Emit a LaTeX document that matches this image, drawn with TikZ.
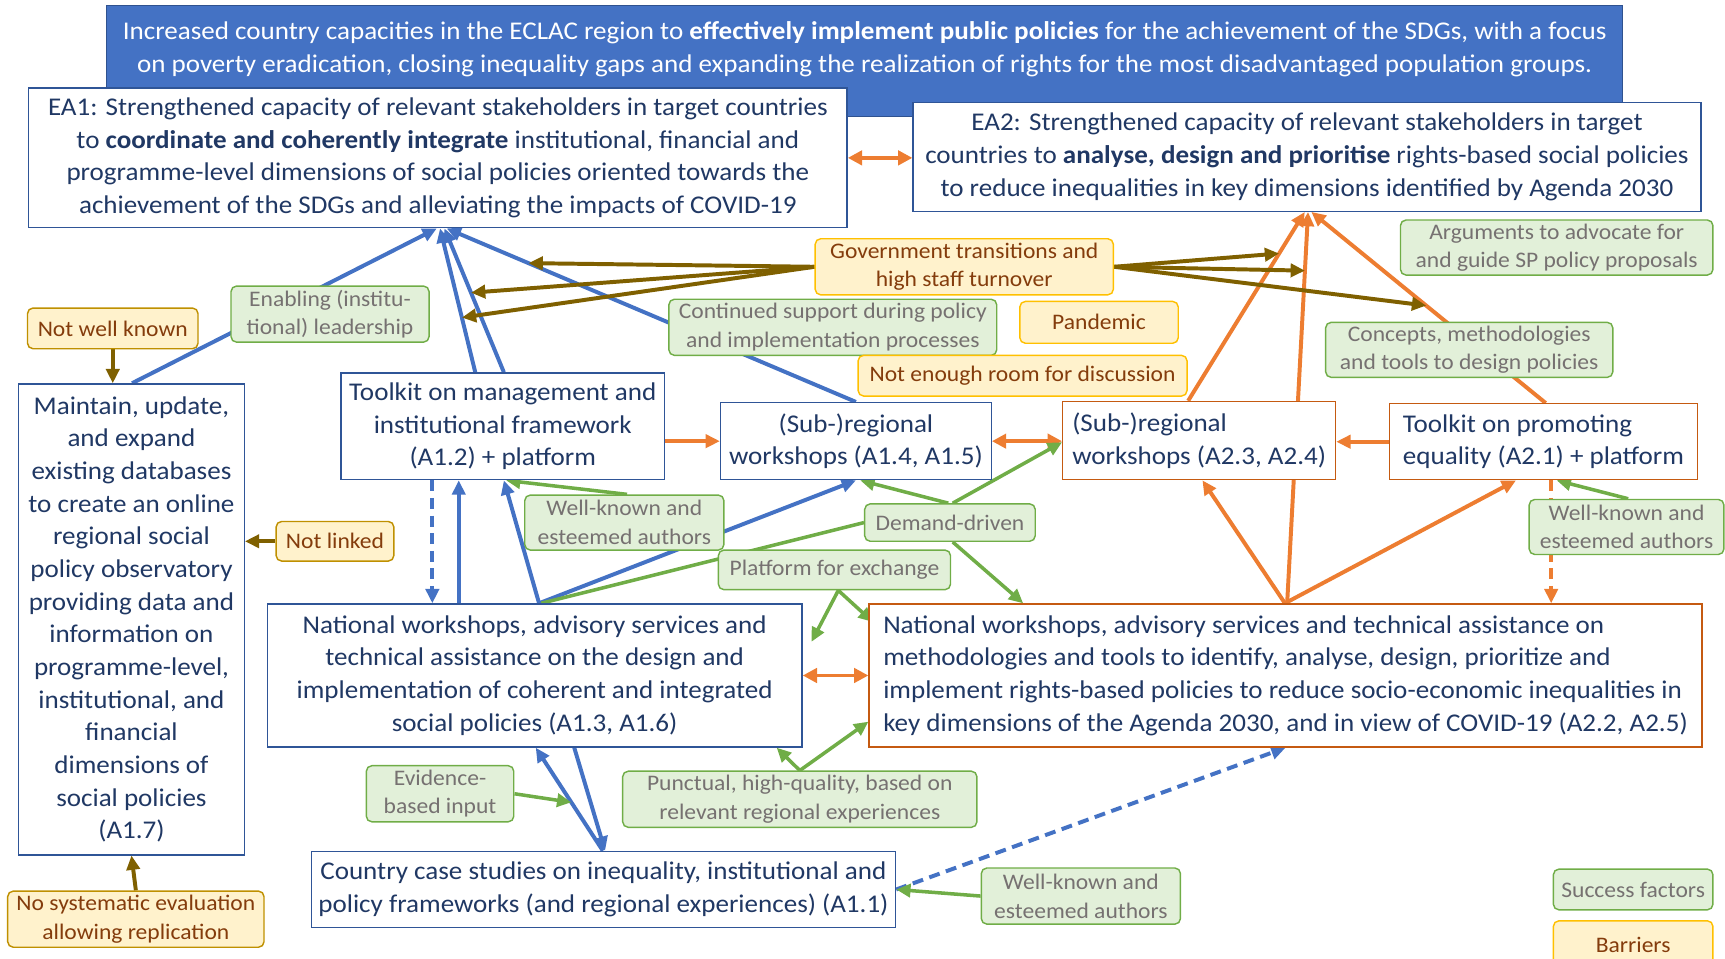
\documentclass[tikz,border=0pt]{standalone}
\usepackage{fontspec}
\setmainfont{Carlito}[FakeStretch=1.06]
\usetikzlibrary{arrows.meta,calc,backgrounds}
\definecolor{navy}{HTML}{203864}
\definecolor{topfill}{HTML}{4472C4}
\definecolor{topdraw}{HTML}{2F528F}
\definecolor{bluebd}{HTML}{2F5597}
\definecolor{orbd}{HTML}{C55A11}
\definecolor{ablue}{HTML}{4472C4}
\definecolor{aorange}{HTML}{ED7D31}
\definecolor{agreen}{HTML}{70AD47}
\definecolor{abrown}{HTML}{7F6000}
\definecolor{sffill}{HTML}{E2F0D9}
\definecolor{sfdraw}{HTML}{70AD47}
\definecolor{sftext}{HTML}{767171}
\definecolor{brfill}{HTML}{FFF2CC}
\definecolor{brdraw}{HTML}{FFC000}
\definecolor{brdrawb}{HTML}{BF9000}
\definecolor{brtext}{HTML}{843C0C}
\newcommand\mainsz{\fontsize{23.2}{29.7}\selectfont}
\newcommand\smallsz{\fontsize{20.2}{26}\selectfont}
\tikzset{
  box/.style={draw, line width=1.3pt, fill=white, inner sep=0pt, text=navy, font=\mainsz, align=center},
  abox/.style={box, draw=bluebd},
  obox/.style={box, draw=orbd},
  sf/.style={draw=sfdraw, fill=sffill, rounded corners=5pt, line width=1.3pt, text=sftext, font=\smallsz, align=center, inner sep=0pt},
  br/.style={draw=brdraw, fill=brfill, rounded corners=5pt, line width=1.3pt, text=brtext, font=\smallsz, align=center, inner sep=0pt},
  brb/.style={br, draw=brdrawb},
  arr/.style={-{Triangle[length=13pt,width=12pt]}},
  darr/.style={{Triangle[length=13pt,width=13pt]}-{Triangle[length=13pt,width=13pt]}},
  bl/.style={draw=ablue, line width=3.6pt},
  ol/.style={draw=aorange, line width=3.6pt},
  gl/.style={draw=agreen, line width=3.2pt},
  rl/.style={draw=abrown, line width=3.6pt},
  dsh/.style={dash pattern=on 10pt off 6pt},
}
\begin{document}
\begin{tikzpicture}[x=1pt,y=-1pt]
\useasboundingbox (0,0) rectangle (1568,871);
% top goal box
\node[draw=topdraw, fill=topfill, line width=1.3pt, minimum width=1378pt, minimum height=101pt, inner sep=0pt] (top) at (786,55.5) {};
\node[text=white, font=\mainsz, align=center, inner sep=0pt] (toptext) at (786,44.5) {Increased country capacities in the ECLAC region to \textbf{effectively implement public policies} for the achievement of the SDGs, with a focus\\ on poverty eradication, closing inequality gaps and expanding the realization of rights for the most disadvantaged population groups.};
% expected accomplishments
\node[abox, minimum width=744pt, minimum height=127pt] (ea1) at (398,143.5) {EA1: Strengthened capacity of relevant stakeholders in target countries\\ to \textbf{coordinate and coherently integrate} institutional, financial and\\ programme-level dimensions of social policies oriented towards the\\ achievement of the SDGs and alleviating the impacts of COVID-19};
\node[abox, minimum width=716pt, minimum height=99pt] (ea2) at (1188,142.5) {EA2: Strengthened capacity of relevant stakeholders in target\\ countries to \textbf{analyse, design and prioritise} rights-based social policies\\ to reduce inequalities in key dimensions identified by Agenda 2030};
% activities
\node[abox, minimum width=205pt, minimum height=428pt] (maint) at (119.5,563) {Maintain, update,\\ and expand\\ existing databases\\ to create an online\\ regional social\\ policy observatory\\ providing data and\\ information on\\ programme-level,\\ institutional, and\\ financial\\ dimensions of\\ social policies\\ (A1.7)};
\node[abox, minimum width=294pt, minimum height=97pt] (tk1) at (457,387.5) {Toolkit on management and\\ institutional framework\\ (A1.2) + platform};
\node[abox, minimum width=246pt, minimum height=70pt] (a14) at (778,401) {(Sub-)regional\\ workshops (A1.4, A1.5)};
\node[obox, align=left, minimum width=248pt, minimum height=71pt] (a23) at (1090,400.5) {(Sub-)regional\\ workshops (A2.3, A2.4)};
\node[obox, align=left, minimum width=280pt, minimum height=69pt] (a21) at (1403,401.5) {Toolkit on promoting\\ equality (A2.1) + platform};
\node[abox, minimum width=486pt, minimum height=130pt] (nat1) at (486,614) {National workshops, advisory services and\\ technical assistance on the design and\\ implementation of coherent and integrated\\ social policies (A1.3, A1.6)};
\node[obox, align=left, minimum width=757pt, minimum height=130pt] (nat2) at (1168.5,614) {National workshops, advisory services and technical assistance on\\ methodologies and tools to identify, analyse, design, prioritize and\\ implement rights-based policies to reduce socio-economic inequalities in\\ key dimensions of the Agenda 2030, and in view of COVID-19 (A2.2, A2.5)};
\node[abox, minimum width=531pt, minimum height=69pt] (cc) at (548.5,808.5) {Country case studies on inequality, institutional and\\ policy frameworks (and regional experiences) (A1.1)};
% success factors
\node[sf, minimum width=180pt, minimum height=51pt] (enab) at (300,285.5) {Enabling (institu-\\tional) leadership};
\node[sf, minimum width=298pt, minimum height=51pt] (cont) at (757,297.5) {Continued support during policy\\ and implementation processes};
\node[sf, minimum width=284pt, minimum height=50pt] (args) at (1415,225) {Arguments to advocate for\\ and guide SP policy proposals};
\node[sf, minimum width=261pt, minimum height=50pt] (conc) at (1335.5,318) {Concepts, methodologies\\ and tools to design policies};
\node[sf, minimum width=181pt, minimum height=50pt] (wka) at (567.5,475) {Well-known and\\ esteemed authors};
\node[sf, minimum width=155pt, minimum height=34pt] (dem) at (863.5,475) {Demand-driven};
\node[sf, minimum width=211pt, minimum height=36pt] (plat) at (758.5,518) {Platform for exchange};
\node[sf, minimum width=177pt, minimum height=50pt] (wkb) at (1478.5,479) {Well-known and\\ esteemed authors};
\node[sf, minimum width=134pt, minimum height=51pt] (evid) at (400,721.5) {Evidence-\\based input};
\node[sf, minimum width=322pt, minimum height=51pt] (punc) at (727,726.5) {Punctual, high-quality, based on\\ relevant regional experiences};
\node[sf, minimum width=181pt, minimum height=51pt] (wkc) at (982.5,814.5) {Well-known and\\ esteemed authors};
\node[sf, minimum width=145pt, minimum height=37pt] (succ) at (1484.5,808.5) {Success factors};
% barriers
\node[br, minimum width=271pt, minimum height=51pt] (gov) at (876.5,242.5) {Government transitions and\\ high staff turnover};
\node[br, minimum width=144pt, minimum height=38pt] (pand) at (999,293) {Pandemic};
\node[br, minimum width=299pt, minimum height=37pt] (room) at (929.5,341.5) {Not enough room for discussion};
\node[brb, minimum width=155pt, minimum height=37pt] (nwk) at (102.5,298.5) {Not well known};
\node[brb, minimum width=107pt, minimum height=36pt] (nlink) at (304.5,492) {Not linked};
\node[brb, minimum width=233pt, minimum height=51pt] (nosys) at (123.5,835.5) {No systematic evaluation\\ allowing replication};
\node[br, minimum width=145pt, minimum height=43pt] (barr) at (1484.5,858.5) {Barriers};
% connectors
\begin{scope}[on background layer]
% blue to EA1
\draw[bl,arr] (maint.north -| 120,0) -- (ea1.south -| 397,0);
\draw[bl,arr] (tk1.north -| 432,0) -- (ea1.south -| 400,0);
\draw[bl,arr] (tk1.north -| 458,0) -- (ea1.south -| 404,0);
\draw[bl,arr] (a14.north) -- (ea1.south -| 406,0);
% blue between toolkit and national
\draw[bl,arr,dsh] (tk1.south -| 393,0) -- (nat1.north -| 393,0);
\draw[bl,arr] (nat1.north -| 417,0) -- (tk1.south -| 417,0);
\draw[bl,arr] (nat1.north -| 490,0) -- (tk1.south -| 458,0);
\draw[bl,arr] (nat1.north -| 490,0) -- (a14.south);
\draw[bl,arr] (cc.north -| 548,0) -- (nat1.south -| 487,0);
\draw[bl,arr] (nat1.south -| 522,0) -- (cc.north -| 550,0);
\draw[bl,arr,dsh] (cc.east) -- (nat2.south);
% orange
\draw[ol,darr] (ea1.east) -- (ea1.east -| ea2.west);
\draw[ol,arr] (tk1.east |- a14.west) -- (a14.west);
\draw[ol,darr] (a14.east) -- (a14.east -| a23.west);
\draw[ol,arr] (a21.west) -- (a21.west -| a23.east);
\draw[ol,darr] (nat1.east) -- (nat1.east -| nat2.west);
\draw[ol,arr] (a23.north -| 1080,0) -- (ea2.south -| 1186,0);
\draw[ol,arr] (nat2.north -| 1170,0) -- (ea2.south -| 1189,0);
\draw[ol,arr] (a21.north -| 1405,0) -- (ea2.south -| 1192,0);
\draw[ol,arr] (nat2.north -| 1168,0) -- (a23.south -| 1093,0);
\draw[ol,arr] (nat2.north -| 1168,0) -- (a21.south -| 1378,0);
\draw[ol,arr,dsh] (a21.south -| 1410,0) -- (nat2.north -| 1410,0);
% green
\draw[gl,arr] (wka.north -| 570,0) -- (tk1.south -| 460,0);
\draw[gl,arr] (dem.north -| 862,0) -- (a14.south -| 782,0);
\draw[gl,arr] (dem.north -| 866,0) -- (a23.west |- 0,402);
\draw[gl] (dem.west) -- (nat1.north -| 492,0);
\draw[gl,arr] (dem.south -| 866,0) -- (nat2.north -| 930,0);
\draw[gl,arr] (plat.south -| 762,0) -- ($(nat1.north east)+(8,35)$);
\draw[gl,arr] (plat.south -| 762,0) -- ($(nat2.north west)+(4,17)$);
\draw[gl,arr] (evid.east) -- ($(cc.north -| 548,0)!0.47!(nat1.south -| 487,0)$);
\draw[gl,arr] (punc.north) -- (nat1.south -| 706,0);
\draw[gl,arr] (punc.north) -- (nat2.west |- 0,656);
\draw[gl,arr] (wkc.west) -- (cc.east);
\draw[gl,arr] (wkb.north -| 1480,0) -- (a21.south -| 1415,0);
% brown
\draw[rl,arr] (gov.west) -- ($(a14.north)!0.80!(ea1.south -| 406,0)$);
\draw[rl,arr] (gov.west) -- ($(tk1.north -| 458,0)!0.553!(ea1.south -| 404,0)$);
\draw[rl,arr] (gov.west) -- ($(tk1.north -| 432,0)!0.38!(ea1.south -| 400,0)$);
\draw[rl,arr] (gov.east) -- ($(a23.north -| 1080,0)!0.78!(ea2.south -| 1186,0)$);
\draw[rl,arr] (gov.east) -- ($(nat2.north -| 1170,0)!0.85!(ea2.south -| 1189,0)$);
\draw[rl,arr] (gov.east) -- ($(a21.north -| 1405,0)!0.51!(ea2.south -| 1192,0)$);
\draw[rl,arr] (nwk.south) -- (maint.north -| nwk.south);
\draw[rl,arr] (nlink.west) -- (nlink.west -| maint.east);
\draw[rl,arr] (nosys.north) -- (maint.south);
\end{scope}
\end{tikzpicture}
\end{document}
